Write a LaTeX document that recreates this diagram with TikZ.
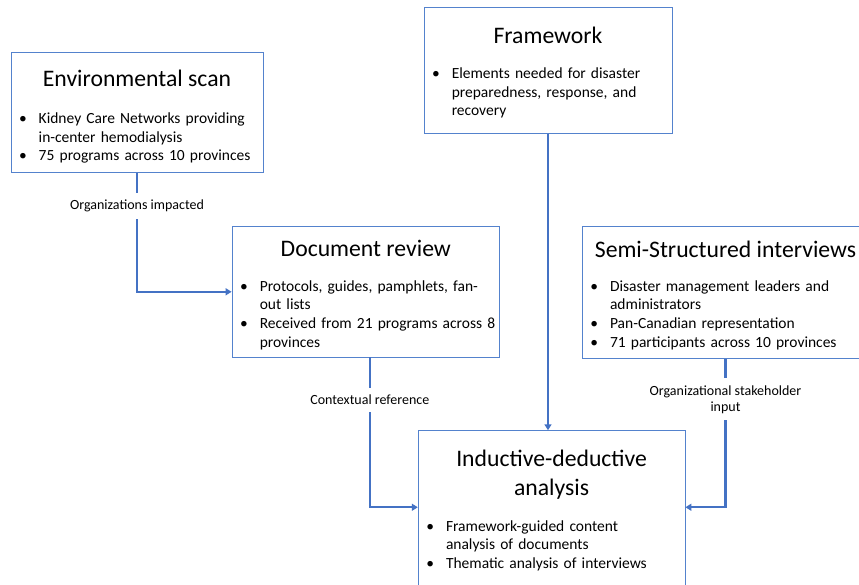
\documentclass[tikz,border=0pt]{standalone}
\usepackage{fontspec}
\setmainfont{Carlito}
\usepackage{enumitem}
\usetikzlibrary{arrows.meta, positioning, calc}
\definecolor{cLine}{RGB}{68,114,196}
\definecolor{cBox}{RGB}{84,130,205}
\tikzset{
	box/.style ={rectangle, draw=cBox, line width=0.9pt, inner sep=0pt, fill=white},
	ttl/.style ={inner sep=0pt, align=center, font=\fontsize{23.7}{29}\selectfont},
	lst/.style ={inner sep=0pt, align=left, font=\fontsize{15.5}{18.6}\selectfont},
	lbl/.style ={fill=white, inner xsep=3pt, inner ysep=7pt, align=center, font=\fontsize{14}{16}\selectfont},
	sig/.style ={-{Triangle[length=6pt, width=7pt]}, line width=2.2pt, draw=cLine},
}
\newenvironment{blist}{\begin{itemize}[leftmargin=17pt, labelsep=12pt, itemsep=0pt, topsep=0pt, parsep=0pt, partopsep=0pt, label=\textbullet]}{\end{itemize}}

\begin{document}
\begin{tikzpicture}[x=1pt, y=-1pt]
	\clip (0,0) rectangle (859,584);
	% boxes
	\node[box, minimum width=252pt, minimum height=119.8pt] (env) at (137,112.6) {};
	\node[box, minimum width=248pt, minimum height=125.7pt] (fw) at (548,70.2) {};
	\node[box, minimum width=267.5pt, minimum height=130.3pt] (doc) at (365.8,291.8) {};
	\node[box, minimum width=286.4pt, minimum height=131.6pt] (semi) at (725.5,292.5) {};
	\node[box, minimum width=266.7pt, minimum height=165pt] (ind) at (551.6,513.2) {};
	% titles
	\node[ttl, anchor=base] (envT) at ($(env.north)+(0,34.3)$) {Environmental scan};
	\node[ttl, anchor=base] (fwT) at ($(fw.north)+(0,36.4)$) {Framework};
	\node[ttl, anchor=base] (docT) at ($(doc.north)+(0,30.3)$) {Document review};
	\node[ttl, anchor=base] (semiT) at ($(semi.north)+(0,31)$) {Semi-Structured interviews};
	\node[ttl, anchor=base] (indT) at ($(ind.north)+(0,65.3)$) {Inductive-deductive\\analysis};
	% bullet lists
	\node[lst, anchor=base west, text width=250pt] (envL) at ($(env.north west)+(11,52.7)$) {%
		\begin{blist}
			\item Kidney Care Networks providing\\in-center hemodialysis
			\item 75 programs across 10 provinces
		\end{blist}};
	\node[lst, anchor=base west, text width=250pt] (fwL) at ($(fw.north west)+(11,53.2)$) {%
		\begin{blist}
			\item Elements needed for disaster\\preparedness, response, and\\recovery
		\end{blist}};
	\node[lst, anchor=base west, text width=270pt] (docL) at ($(doc.north west)+(11,46.5)$) {%
		\begin{blist}
			\item Protocols, guides, pamphlets, fan-\\out lists
			\item Received from 21 programs across 8\\provinces
		\end{blist}};
	\node[lst, anchor=base west, text width=280pt] (semiL) at ($(semi.north west)+(11,46.5)$) {%
		\begin{blist}
			\item Disaster management leaders and\\administrators
			\item Pan-Canadian representation
			\item 71 participants across 10 provinces
		\end{blist}};
	\node[lst, anchor=base west, text width=260pt] (indL) at ($(ind.north west)+(11,82.3)$) {%
		\begin{blist}
			\item Framework-guided content\\analysis of documents
			\item Thematic analysis of interviews
		\end{blist}};
	% entry points on the analysis box
	\coordinate (inL) at ([yshift=-77pt]ind.north west);
	\coordinate (inR) at ([yshift=-77pt]ind.north east);
	\coordinate (docOut) at ([xshift=4pt]doc.south);
	% connectors
	\draw[sig] (env.south) -- node[lbl, pos=.28] (envE) {Organizations impacted} (env.south |- doc.west) -- (doc.west);
	\draw[sig] (fw.south) -- (fw.south |- ind.north);
	\draw[sig] (docOut) -- node[lbl, pos=.285] (docE) {Contextual reference} (docOut |- inL) -- (inL);
	\draw[sig] (semi.south) -- node[lbl, pos=.274] (semiE) {Organizational stakeholder\\input} (semi.south |- inR) -- (inR);
\end{tikzpicture}
\end{document}
